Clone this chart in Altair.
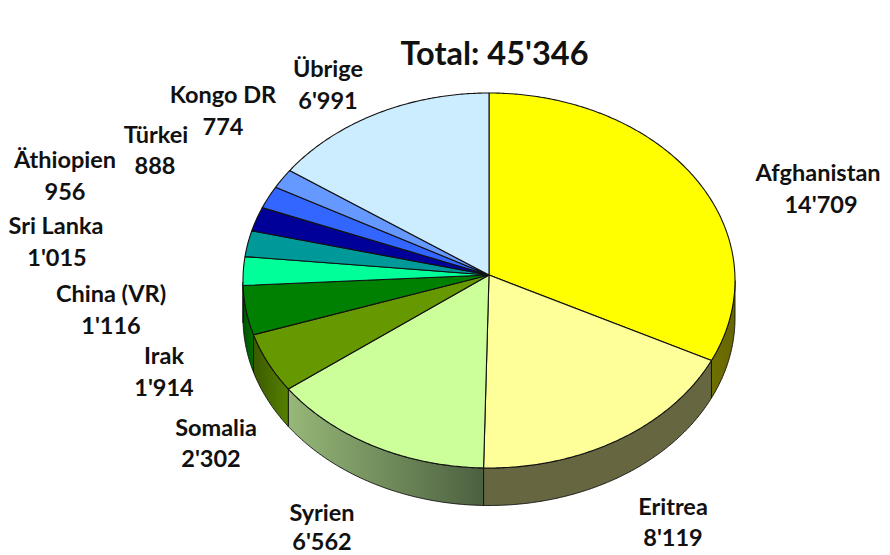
import math
import altair as alt
import pandas as pd

# --- chart data ---
countries = ["Afghanistan", "Eritrea", "Syrien", "Somalia", "Irak", "China (VR)",
             "Sri Lanka", "Äthiopien", "Türkei", "Kongo DR", "Übrige"]
values = [14709, 8119, 6562, 2302, 1914, 1116, 1015, 956, 888, 774, 6991]
title_text = "Total: 45'346"

# --- styling ---
top_colors = ["#FFFF00", "#FFFF99", "#CCFF99", "#669900", "#008000", "#00FF99",
              "#009999", "#000099", "#3366FF", "#6699FF", "#CCECFF"]
side_stops = [("#707000", "#666600"), ("#666640", "#666640"), ("#96B878", "#4C6040"),
              ("#3C5A00", "#558000"), ("#005000", "#007000"), ("#005800", "#006000")]
FONT = "Lato"

# --- layout (page pixels) ---
CX, CY, RX, RY = 489.0, 280.5, 246.0, 187.5
APEX_Y = 275.0
DEPTH = 37.5
label_x = [818, 673, 322, 216, 164, 111, 56, 65, 156, 223, 328]
label_y = [174, 508, 514, 429, 357, 295, 227, 161, 136, 96, 70]
value_x = [821, 673, 322, 211, 164, 111, 57, 65, 155, 223, 328]
value_y = [206, 539, 543, 460, 389, 327, 259, 193, 167, 128, 102]

X = alt.X("x:Q", scale=alt.Scale(domain=[8, 882]), axis=None)
Y = alt.Y("y:Q", scale=alt.Scale(domain=[8, 555], reverse=True), axis=None)


def rim_point(t):
    # ray from the (perspective-shifted) apex to the rim of the top ellipse
    dx, dy = RX * math.sin(t), -RY * math.cos(t)
    off = APEX_Y - CY
    a = (dx / RX) ** 2 + (dy / RY) ** 2
    b = 2 * dy * off / RY ** 2
    c = (off / RY) ** 2 - 1
    s = (-b + math.sqrt(b * b - 4 * a * c)) / (2 * a)
    return CX + s * dx, APEX_Y + s * dy


def arc(share0, share1):
    n = max(3, int((share1 - share0) * 720))
    return [rim_point(2 * math.pi * (share0 + (share1 - share0) * i / n)) for i in range(n + 1)]


def shape(points, fill, width=1.1):
    df = pd.DataFrame(points, columns=["x", "y"])
    df["i"] = range(len(df))
    return alt.Chart(df).mark_line(
        fill=fill, stroke="#111111", strokeWidth=width, strokeJoin="round", clip=False
    ).encode(x=X, y=Y, order="i:Q")


total = sum(values)
layers, tops = [], []
cum = 0
for k, v in enumerate(values):
    s0, s1 = cum / total, (cum + v) / total
    cum += v
    pts = arc(s0, s1)
    tops.append(shape([(CX, APEX_Y)] + pts + [(CX, APEX_Y)], top_colors[k]))
    visible = [p for p in pts if p[1] >= CY]
    if k < len(side_stops) and len(visible) > 1:
        c0, c1 = side_stops[k]
        grad = alt.LinearGradient(
            gradient="linear", x1=0, x2=1, y1=0, y2=0,
            stops=[alt.GradientStop(offset=0, color=c0), alt.GradientStop(offset=1, color=c1)],
        )
        lower = [(x, y + DEPTH) for x, y in reversed(visible)]
        layers.append(shape(visible + lower + visible[:1], grad, 0.9))

text_df = pd.DataFrame({
    "x": label_x + value_x,
    "y": label_y + value_y,
    "t": countries + [f"{v:,}".replace(",", "'") for v in values],
})
labels = alt.Chart(text_df).mark_text(
    font=FONT, fontWeight="bold", fontSize=23.5, color="#111111", align="center", baseline="middle"
).encode(x=X, y=Y, text="t:N")

title = alt.Chart(pd.DataFrame({"x": [494.5], "y": [55], "t": [title_text]})).mark_text(
    font=FONT, fontWeight="bold", fontSize=32.5, color="#111111", align="center", baseline="middle"
).encode(x=X, y=Y, text="t:N")

chart = alt.layer(*layers, *tops, labels, title).properties(
    width=874, height=547, padding=0, autosize=alt.AutoSizeParams(type="none")
).configure_view(stroke=None)

chart.save("out.html", embed_options={"renderer": "svg", "actions": False})
